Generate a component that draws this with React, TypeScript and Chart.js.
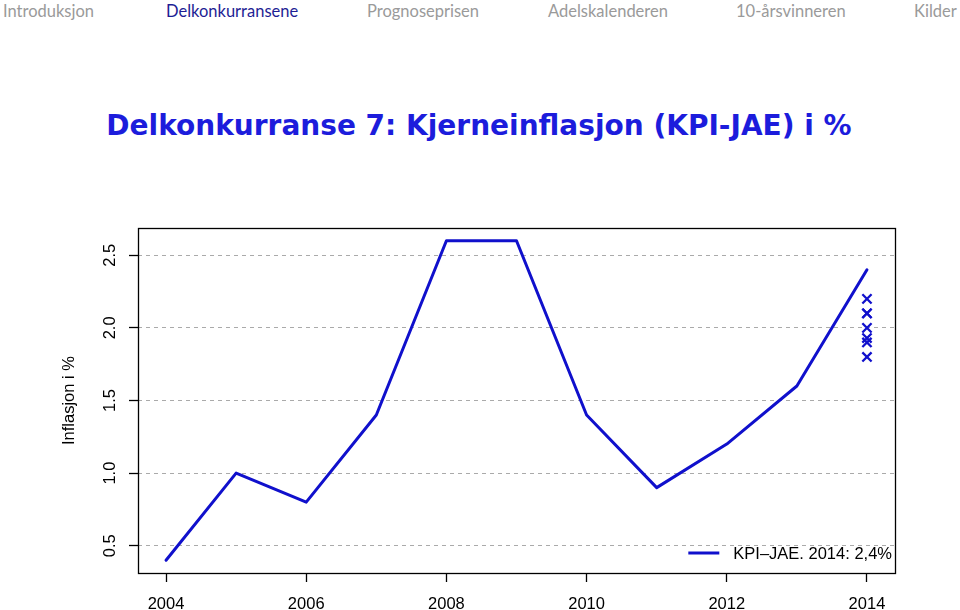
import { useEffect, useRef } from 'react';
import { Chart, registerables } from 'chart.js';

Chart.register(...registerables);

// ---- data ----
const navItems = ['Introduksjon', 'Delkonkurransene', 'Prognoseprisen', 'Adelskalenderen', '10-årsvinneren', 'Kilder'];
const activeNavIndex = 1;
const titleText = 'Delkonkurranse 7: Kjerneinflasjon (KPI-JAE) i %';
const years = [2004, 2005, 2006, 2007, 2008, 2009, 2010, 2011, 2012, 2013, 2014];
const kpiJae = [0.4, 1.0, 0.8, 1.4, 2.6, 2.6, 1.4, 0.9, 1.2, 1.6, 2.4];
const predictionYear = 2014;
const predictions = [2.2, 2.1, 2.1, 2.0, 1.93, 1.9, 1.8];
const xTicks = [2004, 2006, 2008, 2010, 2012, 2014];
const yTicks = [0.5, 1.0, 1.5, 2.0, 2.5];
const yTickLabels = ['0.5', '1.0', '1.5', '2.0', '2.5'];
const legendLabel = 'KPI–JAE. 2014: 2,4%';
const yTitle = 'Inflasjon i %';

// ---- layout / style ----
const navLeft = [3, 166, 367, 548, 736, 914];
const BLUE = '#1010cc';
const FONT = '"Liberation Sans", Arial, Helvetica, sans-serif';
const FS = 16.5;

const yMin = 0.4 - 0.04 * 2.2;
const yMax = 2.6 + 0.04 * 2.2;
const xMin = 2004 - 0.04 * 10;
const xMax = 2014 + 0.04 * 10;

const framePlugin = {
  id: 'frame',
  afterDraw(chart: any) {
    const { ctx, chartArea } = chart;
    const yScale = chart.scales.y;
    ctx.save();
    // box
    ctx.strokeStyle = '#000';
    ctx.lineWidth = 1.3;
    ctx.setLineDash([]);
    ctx.strokeRect(
      Math.round(chartArea.left) + 0.5,
      Math.round(chartArea.top) + 0.5,
      Math.round(chartArea.right - chartArea.left),
      Math.round(chartArea.bottom - chartArea.top)
    );
    // y tick labels rotated
    ctx.fillStyle = '#000';
    ctx.font = `${FS}px ${FONT}`;
    ctx.textAlign = 'center';
    ctx.textBaseline = 'middle';
    yTicks.forEach((v, i) => {
      const py = yScale.getPixelForValue(v);
      ctx.save();
      ctx.translate(chartArea.left - 28, py);
      ctx.rotate(-Math.PI / 2);
      ctx.fillText(yTickLabels[i], 0, 0);
      ctx.restore();
    });
    // legend (bottom right, inside box, no frame)
    const ds = chart.data.datasets[0];
    ctx.font = `${FS}px ${FONT}`;
    ctx.textAlign = 'left';
    ctx.textBaseline = 'middle';
    const textW = ctx.measureText(ds.label).width;
    const textX = chartArea.right - 3 - textW;
    const ly = chartArea.bottom - 20;
    ctx.strokeStyle = ds.borderColor;
    ctx.lineWidth = ds.borderWidth;
    ctx.beginPath();
    ctx.moveTo(textX - 45, ly);
    ctx.lineTo(textX - 14, ly);
    ctx.stroke();
    ctx.fillText(ds.label, textX, ly + 1);
    ctx.restore();
  },
};

function ChartCanvas() {
  const ref = useRef<HTMLCanvasElement | null>(null);
  useEffect(() => {
    if (!ref.current) return;
    const chart = new Chart(ref.current, {
      type: 'line',
      data: {
        datasets: [
          {
            label: legendLabel,
            data: years.map((x, i) => ({ x, y: kpiJae[i] })),
            borderColor: BLUE,
            backgroundColor: BLUE,
            borderWidth: 3,
            pointRadius: 0,
            tension: 0,
            borderJoinStyle: 'round',
            borderCapStyle: 'round',
          } as any,
          {
            label: 'Prognoser',
            data: predictions.map((y) => ({ x: predictionYear, y })),
            showLine: false,
            pointStyle: 'crossRot',
            pointRadius: 6.5,
            pointBorderWidth: 2.3,
            borderColor: BLUE,
            backgroundColor: BLUE,
          } as any,
        ],
      },
      options: {
        animation: false,
        responsive: false,
        maintainAspectRatio: false,
        layout: { padding: { top: 228, right: 65, left: 0, bottom: 0 } },
        plugins: {
          legend: { display: false },
          tooltip: { enabled: false },
          title: { display: false },
        },
        scales: {
          x: {
            type: 'linear',
            min: xMin,
            max: xMax,
            afterFit: (s: any) => { s.height = 37; },
            afterBuildTicks: (s: any) => { s.ticks = xTicks.map((v) => ({ value: v })); },
            grid: {
              drawOnChartArea: false,
              drawTicks: true,
              tickLength: 9,
              tickColor: '#000',
              tickWidth: 1.3,
              color: '#000',
            },
            border: { display: false },
            ticks: {
              color: '#000',
              font: { family: FONT, size: FS },
              padding: 13,
              maxRotation: 0,
              minRotation: 0,
              callback: (v: any) => String(v),
            },
          },
          y: {
            type: 'linear',
            min: yMin,
            max: yMax,
            afterFit: (s: any) => { s.width = 138; },
            afterBuildTicks: (s: any) => { s.ticks = yTicks.map((v) => ({ value: v })); },
            grid: {
              drawOnChartArea: true,
              drawTicks: true,
              tickLength: 9,
              color: '#aaaaaa',
              lineWidth: 1,
              tickColor: '#000',
              tickWidth: 1.3,
              tickBorderDash: [],
            } as any,
            border: { display: false, dash: [4, 4] } as any,
            ticks: { display: false },
            title: {
              display: true,
              text: yTitle,
              color: '#000',
              font: { family: FONT, size: FS },
              padding: { top: 60, bottom: 0 },
            },
          },
        },
      } as any,
      plugins: [framePlugin],
    });
    return () => chart.destroy();
  }, []);
  return <canvas ref={ref} width={960} height={610} style={{ position: 'absolute', left: 0, top: 0 }} />;
}

export default function App() {
  return (
    <div style={{ position: 'fixed', left: 0, top: 0, width: 960, height: 610, background: '#fff', overflow: 'hidden' }}>
      {navItems.map((t, i) => (
        <div
          key={t}
          style={{
            position: 'absolute',
            left: navLeft[i],
            top: 0,
            fontFamily: 'Lato, "Open Sans", sans-serif',
            fontSize: 16.5,
            lineHeight: '22px',
            color: i === activeNavIndex ? '#1e1e94' : '#9a9a9a',
            whiteSpace: 'nowrap',
          }}
        >
          {t}
        </div>
      ))}
      <div
        style={{
          position: 'absolute',
          left: 0,
          width: 958,
          top: 109,
          textAlign: 'center',
          fontFamily: '"DejaVu Sans", sans-serif',
          fontWeight: 700,
          fontSize: 28,
          lineHeight: '33px',
          color: '#1c1cdc',
          whiteSpace: 'nowrap',
        }}
      >
        {titleText}
      </div>
      <ChartCanvas />
    </div>
  );
}
